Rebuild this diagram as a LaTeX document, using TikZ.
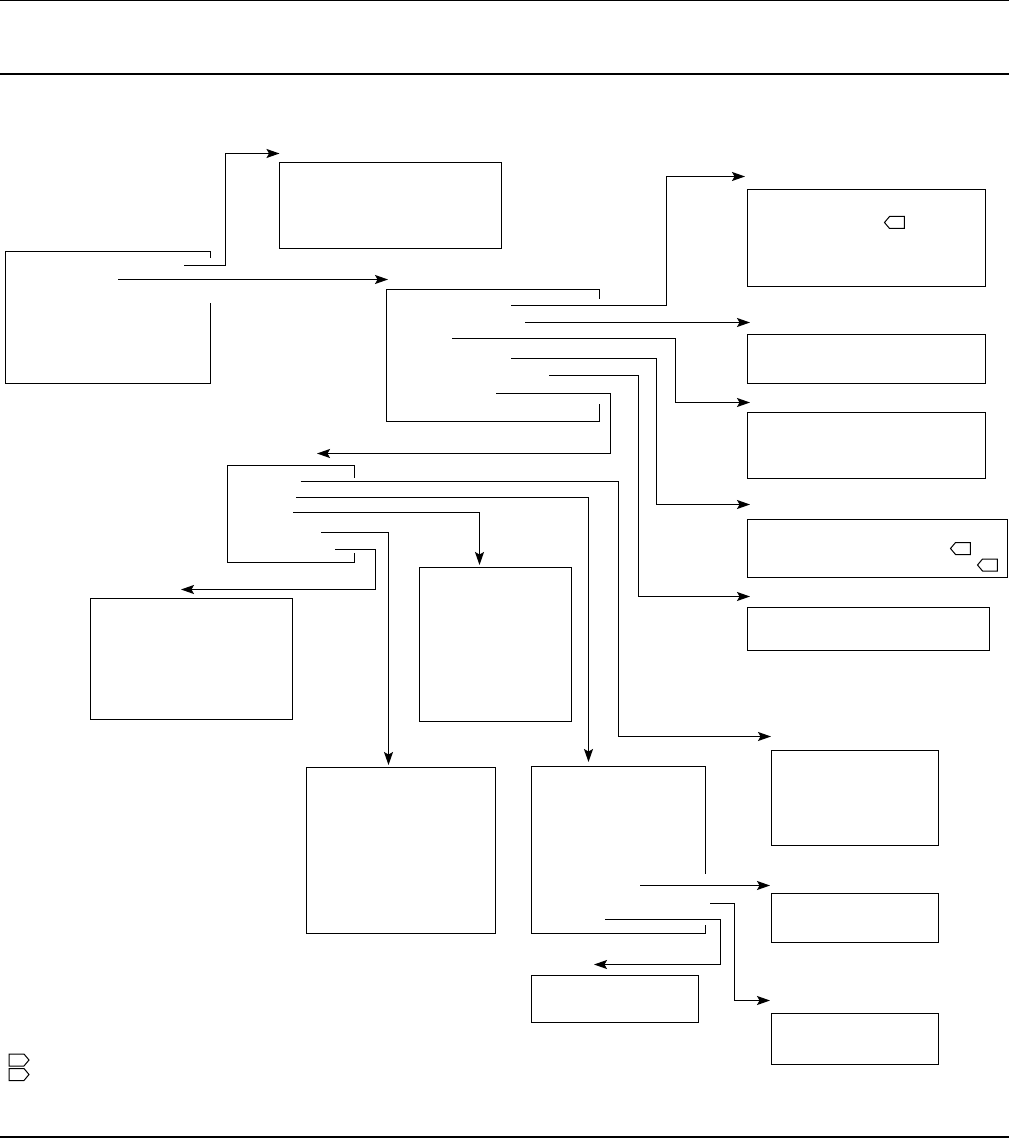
\documentclass[tikz,border=0pt]{standalone}
\usepackage{tikz}
\usetikzlibrary{arrows.meta,positioning,shapes.symbols,calc}
\tikzset{
  blank/.style={inner sep=0pt,outer sep=0pt,anchor=north west},
  panel/.style={blank,draw=black,line width=1.2pt},
  outline/.style={draw=black,line width=1.2pt},
  flow/.style={-{Stealth[length=13pt,width=9pt,inset=2.5pt]},draw=black,line width=1.2pt},
  tag/.style={signal,draw=black,line width=1pt,inner sep=0pt,outer sep=0pt,minimum width=20pt,minimum height=12pt,signal pointer angle=100},
  tagleft/.style={tag,signal to=west},
  tagright/.style={tag,signal to=east},
  thinrule/.style={draw=black,line width=1pt},
  thickrule/.style={draw=black,line width=2pt}
}
\begin{document}
\begin{tikzpicture}[x=1pt,y=-1pt]
\useasboundingbox (0,0) rectangle (1009,1139);
\draw[thinrule] (0,0.5) -- (1009,0.5);
\draw[thickrule] (0,74) -- (1009,74);
\draw[thickrule] (0,1137) -- (1009,1137);

\node[blank,minimum width=205pt,minimum height=132pt] (a) at (5.5,251.5) {};
\node[panel,minimum width=222pt,minimum height=86pt,above right=89pt and 69pt of a.north east,anchor=north west] (b) {};
\node[blank,minimum width=213pt,minimum height=132pt,below left=41pt and 115pt of b.south east,anchor=north west] (c) {};
\node[panel,minimum width=238pt,minimum height=97pt,above right=100pt and 148pt of c.north east,anchor=north west] (j) {};
\node[panel,minimum width=238pt,minimum height=49pt,below=48pt of j.south west,anchor=north west] (k) {};
\node[panel,minimum width=238pt,minimum height=66pt,below=29pt of k.south west,anchor=north west] (l) {};
\node[panel,minimum width=260pt,minimum height=58pt,below=41pt of l.south west,anchor=north west] (m) {};
\node[panel,minimum width=242pt,minimum height=43pt,below=30pt of m.south west,anchor=north west] (n) {};
\node[blank,minimum width=127pt,minimum height=97pt,below left=44pt and 159pt of c.south west,anchor=north west] (d) {};
\node[panel,minimum width=202pt,minimum height=121pt,below left=36pt and 137pt of d.south west,anchor=north west] (e) {};
\node[panel,minimum width=152pt,minimum height=154pt,below right=5pt and 65pt of d.south east,anchor=north west] (f) {};
\node[panel,minimum width=189pt,minimum height=166pt,below right=48pt and 14pt of e.south east,anchor=north west] (g) {};
\node[blank,minimum width=174pt,minimum height=167pt,above right=1pt and 36pt of g.north east,anchor=north west] (h) {};
\node[panel,minimum width=167pt,minimum height=47pt,below=42pt of h.south west,anchor=north west] (i) {};
\node[panel,minimum width=167pt,minimum height=95pt,below right=100pt and 24pt of n.south west,anchor=north west] (o) {};
\node[panel,minimum width=167pt,minimum height=49pt,below=48pt of o.south west,anchor=north west] (p) {};
\node[panel,minimum width=167pt,minimum height=51pt,below=71pt of p.south west,anchor=north west] (q) {};

\node[tagleft,below right=33pt and 149.5pt of j.north west,anchor=center] (j1) {};
\node[tagleft,below right=29pt and 215.5pt of m.north west,anchor=center] (m1) {};
\node[tagleft,below right=45.5pt and 242.5pt of m.north west,anchor=center] (m2) {};
\node[tagright] (note1) at (16.5,1060) {};
\node[tagright,below=14.5pt of note1.center,anchor=center] (note2) {};

\draw[outline] ($(a.north east)+(0,6.5)$) -- (a.north east) -- (a.north west) -- (a.south west) -- (a.south east) -- ++(0,-80.5);
\draw[outline] ($(c.north east)+(0,9)$) -- (c.north east) -- (c.north west) -- (c.south west) -- (c.south east) -- ++(0,-17.5);
\draw[outline] ($(d.north east)+(0,12)$) -- (d.north east) -- (d.north west) -- (d.south west) -- (d.south east) -- ++(0,-10);
\draw[outline] ($(h.north east)+(0,107)$) -- (h.north east) -- (h.north west) -- (h.south west) -- (h.south east) -- ++(0,-8.5);

\coordinate (a1) at ($(a.north west)+(178.5,14)$);
\coordinate (a2) at ($(a.north west)+(112.5,28)$);
\coordinate (c1) at ($(c.north west)+(124.5,16)$);
\coordinate (c2) at ($(c.north west)+(138.5,33)$);
\coordinate (c3) at ($(c.north west)+(65.5,49)$);
\coordinate (c4) at ($(c.north west)+(124.5,69)$);
\coordinate (c5) at ($(c.north west)+(162.5,86)$);
\coordinate (c6) at ($(c.north west)+(109.5,104)$);
\coordinate (d1) at ($(d.north west)+(73,16)$);
\coordinate (d2) at ($(d.north west)+(68.5,32)$);
\coordinate (d3) at ($(d.north west)+(65.5,47)$);
\coordinate (d4) at ($(d.north west)+(93.5,67)$);
\coordinate (d5) at ($(d.north west)+(107.5,84)$);
\coordinate (h1) at ($(h.north west)+(108.5,119)$);
\coordinate (h2) at ($(h.north west)+(178.5,137)$);
\coordinate (h3) at ($(h.north west)+(73.5,153)$);

\coordinate (bin) at ($(b.north west)+(0,-9)$);
\coordinate (cin) at ($(c.north west)+(1.5,-10)$);
\coordinate (din) at ($(d.north west)+(89.5,-12)$);
\coordinate (ein) at ($(e.north west)+(90.5,-9)$);
\coordinate (fin) at ($(f.north west)+(60,-2.5)$);
\coordinate (gin) at ($(g.north west)+(82,-2.5)$);
\coordinate (hin) at ($(h.north west)+(57,-4.5)$);
\coordinate (iin) at ($(i.north west)+(62.5,-11)$);
\coordinate (jin) at ($(j.north west)+(-2.5,-13)$);
\coordinate (kin) at ($(k.north west)+(2.5,-12)$);
\coordinate (lin) at ($(l.north west)+(2.5,-10)$);
\coordinate (min) at ($(m.north west)+(2.5,-15)$);
\coordinate (nin) at ($(n.north west)+(2.5,-11)$);
\coordinate (oin) at ($(o.north west)+(-0.5,-14)$);
\coordinate (pin) at ($(p.north west)+(-1.5,-8)$);
\coordinate (qin) at ($(q.north west)+(-1.5,-13)$);

\draw[flow] (a1) -- ++(41.5,0) |- (bin);
\draw[flow] (a2) -- (cin);
\draw[flow] (c1) -- ++(155.5,0) |- (jin);
\draw[flow] (c2) -- (kin);
\draw[flow] (c3) -- ++(223.5,0) |- (lin);
\draw[flow] (c4) -- ++(145.5,0) |- (min);
\draw[flow] (c5) -- ++(89.5,0) |- (nin);
\draw[flow] (c6) -- ++(114.5,0) |- (din);
\draw[flow] (d1) -- ++(318,0) |- (oin);
\draw[flow] (d2) -| (hin);
\draw[flow] (d3) -| (fin);
\draw[flow] (d4) -| (gin);
\draw[flow] (d5) -- ++(40.5,0) |- (ein);
\draw[flow] (h1) -- (pin);
\draw[flow] (h2) -- ++(24.5,0) |- (qin);
\draw[flow] (h3) -- ++(115.5,0) |- (iin);
\end{tikzpicture}
\end{document}
